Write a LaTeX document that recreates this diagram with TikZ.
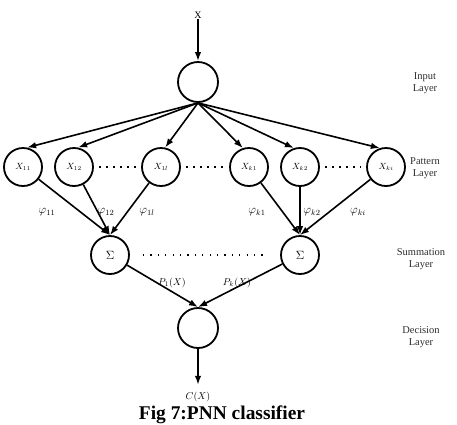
\documentclass[tikz,border=0pt]{standalone}
\usepackage{fontspec}
\setmainfont{Liberation Serif}
\usetikzlibrary{arrows.meta, positioning}
\definecolor{pnnGrey}{HTML}{2E2E2E}
\tikzset{
  neuron/.style   = {circle, draw=black, line width=1.8bp, minimum size=38bp, inner sep=0pt, font=\small},
  wire/.style     = {-{Latex[length=9bp, width=6.5bp]}, line width=1.6bp},
  dotrow/.style   = {line width=1.6bp, dash pattern=on 1.6bp off 5.4bp},
  lbl/.style      = {font=\normalsize, inner sep=1bp},
  wlbl/.style     = {font=\large, inner sep=1bp},
  layerlbl/.style = {font=\fontsize{10.5}{12.5}\selectfont, align=center, pnnGrey, inner sep=0pt},
}

\begin{document}
\begin{tikzpicture}[x=1bp, y=-1bp]
  \useasboundingbox (0,0) rectangle (457,424);
  % input layer
  \node[lbl] (xin) at (198,15) {X};
  \node[neuron, minimum size=40bp] (in) at (198,82) {};
  % pattern layer
  \node[neuron] (x11) at (23,167)  {$X_{11}$};
  \node[neuron] (x12) at (74,167)  {$X_{12}$};
  \node[neuron] (x1l) at (161,167) {$X_{1l}$};
  \node[neuron] (xk1) at (249,167) {$X_{k1}$};
  \node[neuron] (xk2) at (300,167) {$X_{k2}$};
  \node[neuron] (xki) at (386,167) {$X_{ki}$};
  % summation layer
  \node[neuron, font=\large] (s1) at (110,255) {$\Sigma$};
  \node[neuron, font=\large] (sk) at (300,255) {$\Sigma$};
  % decision layer
  \node[neuron, minimum size=40bp] (dec) at (198,328) {};
  \node[lbl] (cx) at (198,397) {$C(X)$};

  \draw[wire] (xin) -- (in.north);
  \foreach \n in {x11, x12, x1l}
    \draw[wire] (in.south) -- (\n.78);
  \foreach \n in {xk1, xk2, xki}
    \draw[wire] (in.south) -- (\n.108);
  \foreach \n in {x11, x12, x1l}
    \draw[wire] (\n) -- (s1.north);
  \foreach \n in {xk1, xk2, xki}
    \draw[wire] (\n) -- (sk.north);
  \draw[wire] (s1) -- (dec.north);
  \draw[wire] (sk) -- (dec.north);
  \draw[wire, shorten >=6bp] (dec) -- (cx);

  % dots between the units
  \draw[dotrow, shorten <=5bp, shorten >=5bp] (x12) -- (x1l);
  \draw[dotrow, shorten <=5bp, shorten >=5bp] (x1l) -- (xk1);
  \draw[dotrow, shorten <=5bp, shorten >=5bp] (xk2) -- (xki);
  \draw[dotrow, line width=1.2bp, dash pattern=on 1.2bp off 6.2bp,
        shorten <=13bp, shorten >=13bp] (s1) -- (sk);

  % weights
  \node[wlbl] (w11) at (47,212)  {$\varphi_{11}$};
  \node[wlbl] (w12) at (106,212) {$\varphi_{12}$};
  \node[wlbl] (w1l) at (147,212) {$\varphi_{1l}$};
  \node[wlbl] (wk1) at (257,212) {$\varphi_{k1}$};
  \node[wlbl] (wk2) at (312,212) {$\varphi_{k2}$};
  \node[wlbl] (wki) at (358,212) {$\varphi_{ki}$};
  \node[lbl] (p1) at (172,283) {$P_1(X)$};
  \node[lbl] (pk) at (237,283) {$P_k(X)$};

  % layer names
  \node[layerlbl] (linput) at (425,83)  {Input\\Layer};
  \node[layerlbl] (lpatt)  at (425,168) {Pattern\\Layer};
  \node[layerlbl] (lsum)   at (421,259) {Summation\\Layer};
  \node[layerlbl] (ldec)   at (421,337) {Decision\\Layer};

  \node[font=\bfseries\fontsize{19.5}{22}\selectfont, anchor=base, inner sep=0pt] (cap)
    at (222,419) {Fig 7:PNN classifier};
\end{tikzpicture}
\end{document}
